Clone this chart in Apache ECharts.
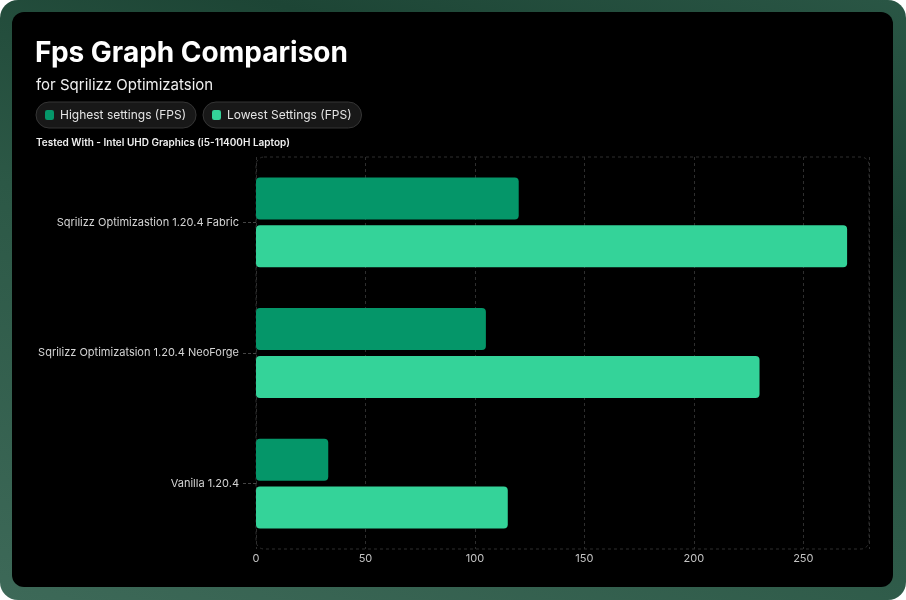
<!DOCTYPE html>
<html>
<head>
<meta charset="utf-8">
<script src="https://cdn.jsdelivr.net/npm/echarts@6/dist/echarts.min.js"></script>
<style>
  html, body { margin: 0; padding: 0; background: #ffffff; }
  #frame {
    position: absolute; left: 0; top: 0; width: 906px; height: 600px;
    border-radius: 18px;
    background: linear-gradient(20deg, #3d6958 0%, #2c5846 45%, #1d4535 75%, #2a5645 100%);
  }
  #inner {
    position: absolute; left: 12px; top: 12px; width: 881px; height: 575px;
    border-radius: 12px; background: #000000;
  }
  #chart { position: absolute; left: 0; top: 0; width: 906px; height: 600px; }
</style>
</head>
<body>
<div id="frame"><div id="inner"></div></div>
<div id="chart"></div>
<script>
const categories = [
  'Sqrilizz Optimizastion 1.20.4 Fabric',
  'Sqrilizz Optimizatsion 1.20.4 NeoForge',
  'Vanilla 1.20.4'
];
const highestSettings = [120, 105, 33];
const lowestSettings = [270, 230, 115];
const seriesNames = ['Highest settings (FPS)', 'Lowest Settings (FPS)'];
const xTicks = { min: 0, max: 280, interval: 50 };

const FONT = 'Inter, "Noto Sans", sans-serif';
const gridBox = { left: 256, top: 157, right: 37, bottom: 51 };

const chart = echarts.init(document.getElementById('chart'), null, { renderer: 'canvas' });

const pill = (name, left) => ({
  data: [name],
  left: left, top: 102,
  orient: 'horizontal',
  padding: [7, 10, 7, 9],
  backgroundColor: '#181818',
  borderColor: '#353535',
  borderWidth: 1,
  borderRadius: 13,
  icon: 'roundRect',
  itemWidth: 9, itemHeight: 10,
  textStyle: { color: '#e4e4e4', fontSize: 12, fontFamily: FONT, padding: [0, 0, 0, 1] },
  selectedMode: false
});

chart.setOption({
  backgroundColor: 'transparent',
  animation: false,
  textStyle: { fontFamily: FONT },
  title: [
    { text: 'Fps Graph Comparison', left: 35, top: 40, padding: 0,
      textStyle: { color: '#ffffff', fontSize: 28, fontWeight: 700, fontFamily: FONT } },
    { text: 'for Sqrilizz Optimizatsion', left: 36, top: 78, padding: 0,
      textStyle: { color: '#f0f0f0', fontSize: 15, fontWeight: 400, fontFamily: FONT } },
    { text: 'Tested With - Intel UHD Graphics (i5-11400H Laptop)', left: 36, top: 138, padding: 0,
      textStyle: { color: '#f0f0f0', fontSize: 10, fontWeight: 600, fontFamily: FONT } }
  ],
  legend: [pill(seriesNames[0], 36), pill(seriesNames[1], 203)],
  grid: { left: gridBox.left, right: gridBox.right, top: gridBox.top, bottom: gridBox.bottom, containLabel: false },
  xAxis: {
    type: 'value',
    min: xTicks.min, max: xTicks.max, interval: xTicks.interval,
    axisLine: { show: false },
    axisTick: { show: false },
    axisLabel: { color: '#c4c4c4', fontSize: 11, margin: 4, showMaxLabel: false, fontFamily: FONT },
    splitLine: { show: true, lineStyle: { color: '#2e2e2e', type: [3, 3], width: 1 } }
  },
  yAxis: {
    type: 'category',
    inverse: true,
    data: categories,
    axisLine: { show: false },
    axisTick: { show: true, alignWithLabel: true, length: 15, lineStyle: { color: '#444444', type: [3, 2] } },
    axisLabel: { color: '#d4d4d4', fontSize: 11, margin: 17, fontFamily: FONT },
    splitLine: { show: false }
  },
  graphic: [{
    type: 'rect',
    silent: true,
    z: 0,
    shape: { x: gridBox.left, y: gridBox.top, width: 906 - gridBox.left - gridBox.right, height: 600 - gridBox.top - gridBox.bottom, r: 8 },
    style: { fill: null, stroke: '#2e2e2e', lineWidth: 1, lineDash: [3, 3] }
  }],
  series: [
    { name: seriesNames[0], type: 'bar', data: highestSettings, barWidth: 42, barGap: '14%',
      itemStyle: { color: '#059669', borderRadius: 4 } },
    { name: seriesNames[1], type: 'bar', data: lowestSettings, barWidth: 42, barGap: '14%',
      itemStyle: { color: '#34d399', borderRadius: 4 } }
  ]
});
</script>
</body>
</html>
